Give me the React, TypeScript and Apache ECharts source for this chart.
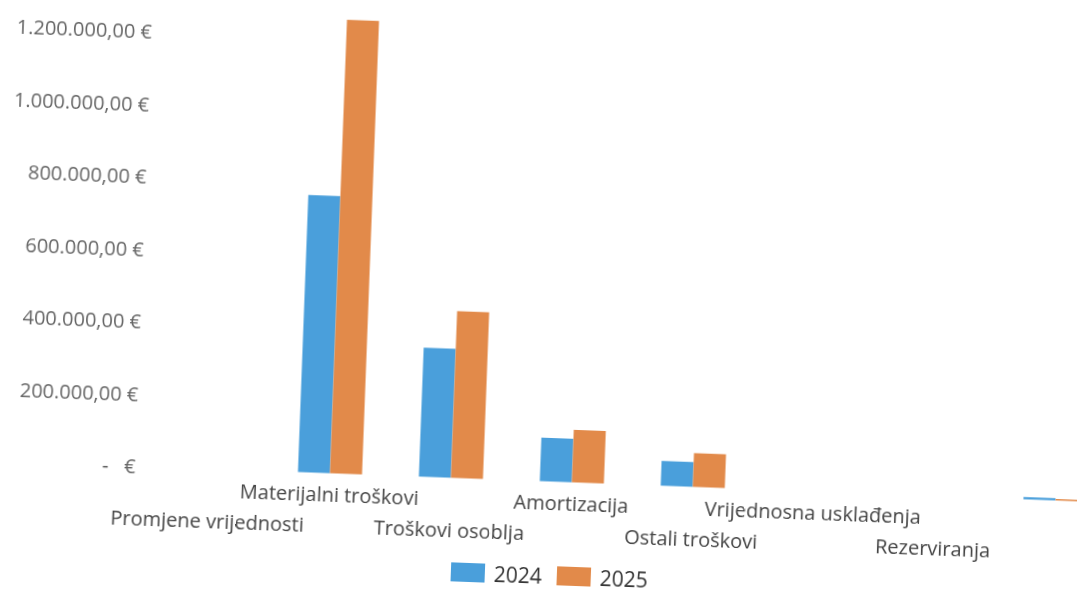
import React, { useEffect, useRef } from "react";
import * as echarts from "echarts";

const categories = [
  "Promjene vrijednosti",
  "Materijalni troškovi",
  "Troškovi osoblja",
  "Amortizacija",
  "Ostali troškovi",
  "Vrijednosna usklađenja",
  "Rezerviranja",
  "Ostali poslovni rashodi",
];
const values2024 = [0, 765000, 356000, 120000, 68000, 0, 0, 6000];
const values2025 = [0, 1252000, 460000, 145000, 93000, 0, 0, 4000];
const seriesNames = ["2024", "2025"];
const hiddenLabelIndex = 7;

const fmt = (v: number) => {
  if (v === 0) return "-   €";
  if (v > 1200000) return "";
  return String(Math.round(v)).replace(/\B(?=(\d{3})+(?!\d))/g, ".") + ",00 €";
};

export default function App() {
  const ref = useRef<HTMLDivElement>(null);
  useEffect(() => {
    if (!ref.current) return;
    const chart = echarts.init(ref.current, null, { renderer: "svg" });
    const font = "'Open Sans', 'Noto Sans', sans-serif";
    chart.setOption({
      animation: false,
      grid: { left: 166, right: 0, top: 0, bottom: 135.5, containLabel: false },
      legend: {
        data: seriesNames,
        left: 467,
        top: 586,
        icon: "rect",
        itemWidth: 34,
        itemHeight: 19,
        itemGap: 15,
        textStyle: { fontFamily: font, fontSize: 21, color: "#333333", padding: [4, 0, 0, 4] },
      },
      xAxis: {
        type: "category",
        data: categories,
        axisLine: { show: false },
        axisTick: { show: false },
        axisLabel: {
          interval: 0,
          hideOverlap: false,
          margin: 5,
          fontFamily: font,
          fontSize: 20,
          lineHeight: 31,
          color: "#444444",
          formatter: (v: string, i: number) =>
            i === hiddenLabelIndex ? "" : i % 2 === 1 ? v : "\n" + v,
        },
      },
      yAxis: {
        type: "value",
        min: 0,
        max: 1400000,
        interval: 200000,
        splitLine: { show: false },
        axisLine: { show: false },
        axisTick: { show: false },
        axisLabel: {
          margin: 13,
          fontFamily: font,
          fontSize: 20,
          color: "#666666",
          formatter: fmt,
        },
      },
      series: [
        {
          name: seriesNames[0],
          type: "bar",
          data: values2024,
          barGap: "0%",
          barCategoryGap: "47%",
          itemStyle: { color: "#4A9FDB" },
        },
        {
          name: seriesNames[1],
          type: "bar",
          data: values2025,
          barGap: "0%",
          barCategoryGap: "47%",
          itemStyle: { color: "#E28A4A" },
        },
      ],
    });
    return () => chart.dispose();
  }, []);
  return (
    <div
      style={{
        position: "fixed",
        left: 0,
        top: 0,
        width: 1077,
        height: 596,
        transformOrigin: "0 0",
        transform: "rotate(2.15deg)",
      }}
    >
      <div
        ref={ref}
        style={{ position: "absolute", left: 0, top: -47, width: 1134, height: 643 }}
      />
    </div>
  );
}
